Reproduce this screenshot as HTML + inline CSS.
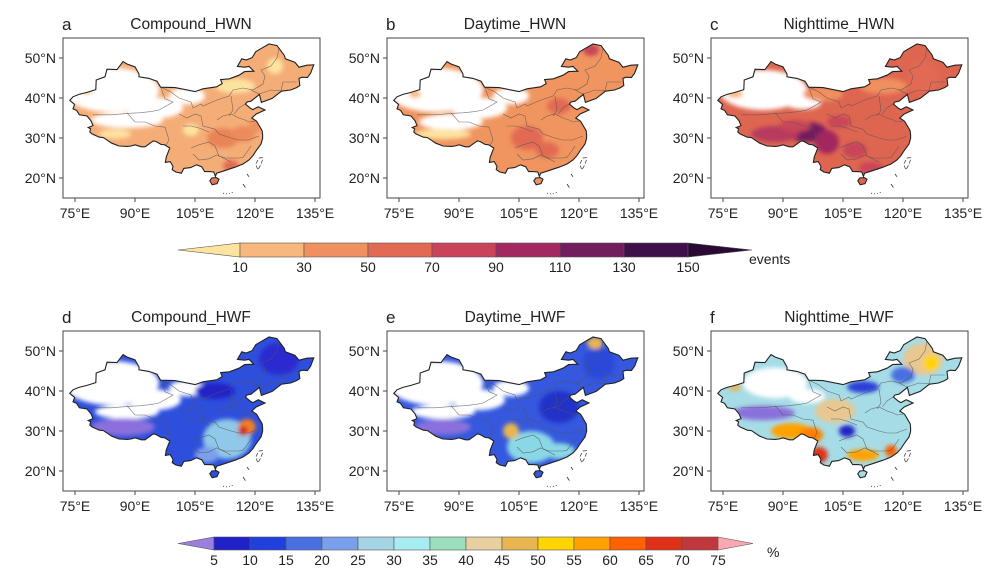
<!DOCTYPE html>
<html><head><meta charset="utf-8">
<style>
body{margin:0;background:#fff;}
svg{display:block;font-family:"Liberation Sans",Arial,sans-serif;}
</style></head>
<body>
<svg id="fig" width="1000" height="584" viewBox="0 0 1000 584">
<defs>
<filter id="blur" x="-50%" y="-50%" width="200%" height="200%"><feGaussianBlur stdDeviation="2.2"/></filter>
<clipPath id="chinaClip"><path id="clipPath0"/></clipPath>
</defs>
</svg>
<script>
const NS='http://www.w3.org/2000/svg';
const svg=document.getElementById('fig');
const chinaOutline=[[73.7,39.4],[74.5,40.3],[76,40.9],[78,41.4],[80.2,42.1],[80.3,44.5],[82.5,45.3],[83,47.2],[85.5,47.1],[87,49.1],[88,48.5],[90,47.8],[91,46],[91,45.3],[93.5,44.9],[95.5,44.2],[96.4,42.7],[100,42.6],[105,41.6],[107,42.3],[110.4,42.8],[111.8,43.6],[111.4,44.6],[113.6,44.8],[116,45.7],[117.4,46.6],[119.7,46.7],[118.5,47.9],[117.4,47.7],[115.6,47.9],[116.7,49.8],[117.8,49.5],[119.3,50.1],[120.2,51.6],[121.4,52.3],[123.5,53.5],[125.5,53.1],[127.3,50.7],[127.6,49.8],[130,48.9],[131,47.7],[133,48.2],[134.7,48.3],[133.9,46.2],[133.1,45.1],[131.8,45.2],[131,44.9],[131.2,43.1],[130.4,42.6],[128.9,42],[126.6,41.7],[124.3,39.9],[121.6,38.9],[121.1,40.9],[119,39.2],[118,39],[117.6,38.5],[118.9,37.4],[119.5,37.1],[120.8,37.8],[122.5,37],[120.3,36],[119.2,35],[120.4,34.2],[121.8,31.8],[121.9,30.8],[121.9,29.9],[121.5,28.5],[120.4,27],[119.5,25.6],[118.5,24.5],[117,23.5],[115,22.7],[113.5,22.2],[112,21.7],[110.4,21.2],[110.1,20.4],[109.7,21.5],[108.5,21.6],[107.4,21.6],[106.7,22.8],[105.4,23.3],[103.9,22.6],[102.2,22.4],[101.6,21.2],[100.2,21.5],[99.3,22.1],[99.5,22.9],[98.8,24.1],[97.6,23.9],[97.8,25.2],[98.7,27.5],[97.4,28.3],[96.5,28.4],[95.3,29.1],[94.6,29.3],[92.5,27.8],[91.6,27.8],[90,28.3],[89,28],[88.1,27.9],[86,28],[84.2,28.7],[82.1,30.1],[81.1,30.2],[79.3,31],[78.7,31.5],[78.9,32.3],[78.3,32.6],[79.5,33.1],[79,34.3],[78,35.5],[76.1,35.8],[75.4,36.9],[74.5,37.3],[74.9,38.4]];
const hainan=[[108.7,19.3],[109.3,18.3],[110.5,18.6],[111,19.7],[110.3,20.1],[109.2,20]];
const taiwan=[[121.9,25.1],[121,25],[120.2,23.5],[120.7,22],[121.4,23.2],[121.9,24.6]];
const provinceLines=[
 [[79.5,35.8],[84,35.8],[89,36.2],[91,36.3],[94,36.6],[96,37],[98.5,38.4],[99.5,39],[97.5,39.8],[96.5,42.5]],
 [[88,36.3],[90,34],[92.5,34],[95,33],[97.5,32.7],[98.5,29.5],[97.8,28.3]],
 [[96.5,42.7],[99,41.5],[101,40],[104,39],[104.5,37.5],[106.5,38.5],[107,38],[110.5,39.5],[113.5,40.5],[114.5,42],[117,42.5],[119.5,42],[122,43.5],[122.5,45.5],[121.5,47],[124,48],[125.5,50],[126,52.5]],
 [[101,36],[103,35],[105,36],[106.5,35.5],[107,33],[110,32.2],[111,31],[114,30],[116,29.5],[118.3,29.5],[121,30.5]],
 [[104,27.5],[106,28.3],[108.5,29],[110,28],[111,25.5],[112.5,25],[114.5,25],[116,25],[117,25.2],[118,26.5],[119,28]],
 [[110.5,34.5],[112,35.5],[114,36],[116,35],[117.5,34.5],[118.5,34],[120,34.2]],
 [[104.5,26],[106,24.5],[108.5,24.8],[110.5,25.8],[114,24]],
 [[114,40.5],[114.5,37],[113.5,35.5]],
 [[117.5,38.5],[116,37.5],[114.8,36]],
 [[102,33],[104,33],[106,32.5],[108.5,31.5]],
 [[119,42],[121,41],[124,42],[126.5,41.8],[127,44],[130.5,44]]
];
const letters=['a','b','c','d','e','f'];
const titles=['Compound_HWN','Daytime_HWN','Nighttime_HWN','Compound_HWF','Daytime_HWF','Nighttime_HWF'];
const panelBase=['#f5ad78','#f0955f','#de6650','#2e4fdc','#3558de','#a6dce6'];
// blobs: [lon, lat, rxDeg, ryDeg, color]
const blobsA=[[84,42,12,5.5,'#fff'],[95,37.5,7,2.6,'#fff'],[103,40.5,4.5,2.1,'#fff'],[88,34.5,9,2,'#fff'],[115,43,5,1.8,'#fce3a0'],[85,31,4,1.2,'#fce3a0'],[104,32,2,1.5,'#fce3a0'],[125,48,2,2,'#fce3a0'],[112,30,4,2.5,'#e98457'],[117,31,3,2,'#ec8a5c'],[114,23,2,1.5,'#e26a53'],[110,19,1.5,1,'#e26a53'],[120,33,1.5,2,'#f0905f'],[78,42,1.5,1,'#f7b77d']];
const blobsB=[[84,42,12,5.5,'#fff'],[95,37.5,7,2.6,'#fff'],[103,40.5,4.5,2.1,'#fff'],[88,34,8,2,'#fff'],[86,31,7,1.3,'#fce3a0'],[107,30,4,3,'#e26a53'],[112,27,3,2,'#e26a53'],[123,52,2,1.5,'#c94459'],[115,38,3,2,'#e26a53'],[79,41,1.5,1,'#f7b77d']];
const blobsC=[[85,42,11,5,'#fff'],[95,38.8,4.5,1.6,'#fff'],[96,31.5,5,2.5,'#721d5e'],[101,29,3,3,'#a3285f'],[88,31,6,2,'#b63a5e'],[93,33,4,1.5,'#c94459'],[108,27,3,2,'#c94459'],[112,22.5,3,1.5,'#c94459'],[104,34,3,1.5,'#c94459'],[125,45,4,4,'#e26a53'],[115,43,6,2,'#f0905f'],[100,41,5,1.8,'#f0905f'],[78,41,2,1,'#f7b77d']];
const blobsD=[[84,42,12,5.5,'#fff'],[95,37.8,6.5,2.6,'#fff'],[103,40.7,4.5,2,'#fff'],[88,34.8,8,1.8,'#fff'],[87,31,8,2.2,'#8a6fdc'],[113,28,6,5,'#8fc8e8'],[108,24,3,2,'#7aa0ec'],[118,31,2.2,2,'#f08020'],[117,30,1.2,1.2,'#d02020'],[126,48,5,4,'#2a2ad0'],[110,40,5,2,'#2121c8']];
const blobsE=[[84,42,12,5.5,'#fff'],[95,37.8,6.5,2.6,'#fff'],[103,40.7,4.5,2,'#fff'],[86,34.8,8,1.8,'#fff'],[86,31,7,2,'#8a6fdc'],[108,26,6,4,'#8ad8e6'],[115,25,4,2,'#8ad8e6'],[103,30,2,2,'#e8b650'],[115,36,5,4,'#2030c8'],[125,47,4,4,'#2a48d8'],[124,52,2,1.5,'#e8b650']];
const blobsF=[[88,42,8,3.8,'#fff'],[96,38.7,4.5,1.8,'#fff'],[85,34.5,8,1.8,'#8a6fdc'],[103,35,5,3,'#e8c890'],[125,48,5,4,'#e8c890'],[127,47,2,2,'#ffd400'],[92,30,5,2,'#ffa200'],[97,29,3,2,'#ff8000'],[99,24,2.2,2,'#e03018'],[110,24,4,1.5,'#ffa200'],[117,25,1.5,1.5,'#ff6000'],[106,30,2,1.5,'#2121c8'],[110,41,4,1.5,'#2a40d8'],[120,44,3,2,'#4a6fe0'],[78,41,1.5,1,'#e8b650']];
const panelBlobs=[blobsA,blobsB,blobsC,blobsD,blobsE,blobsF];
const colX=[63,387,711], rowY=[38,331];
const latTicks=[50,40,30,20], lonTicks=[75,90,105,120,135];
const cb1Labels=['10','30','50','70','90','110','130','150'];
const cb1Colors=['#fce3a0','#f7b77d','#f0905f','#e26a53','#c94459','#a3285f','#721d5e','#40104a','#2a0a35'];
const cb2Labels=['5','10','15','20','25','30','35','40','45','50','55','60','65','70','75'];
const cb2Colors=['#9a7ee0','#2121c8','#2040dd','#4a6fe0','#7aa0ec','#a5d5e4','#a6ecf0','#9ae0c0','#e8cfa0','#e8b650','#ffd400','#ffa200','#ff6000','#e03018','#c0383c','#f8a8b0'];

const X=lon=>(lon-72)*4, Y=lat=>(55-lat)*4;
function mk(t,a,p){const e=document.createElementNS(NS,t);for(const k in a)e.setAttribute(k,a[k]);(p||svg).appendChild(e);return e;}
function pts(arr){return arr.map(p=>X(p[0]).toFixed(1)+','+Y(p[1]).toFixed(1)).join(' ');}
const outlineD='M'+pts(chinaOutline)+'Z M'+pts(hainan)+'Z';
document.getElementById('clipPath0').setAttribute('d',outlineD);

for(let i=0;i<6;i++){
 const x0=colX[i%3], y0=rowY[Math.floor(i/3)];
 const g=mk('g',{transform:`translate(${x0},${y0})`});
 
 
 const fillG=mk('g',{'clip-path':'url(#chinaClip)'},g);
 mk('path',{d:outlineD,fill:panelBase[i]},fillG);
 const bg=mk('g',{filter:'url(#blur)'},fillG);
 panelBlobs[i].forEach(b=>{
  const el=mk('ellipse',{cx:X(b[0]),cy:Y(b[1]),rx:b[2]*4,ry:b[3]*4,fill:b[4]},bg);
  
  
 });
 provinceLines.forEach(l=>{mk('polyline',{points:pts(l),fill:'none',stroke:'#555','stroke-width':0.6,'stroke-opacity':0.8},g);});
 const ol=mk('path',{d:outlineD,fill:'none',stroke:'#222','stroke-width':1.1},g);
 
 
 mk('polygon',{points:pts(taiwan),fill:'none',stroke:'#333','stroke-width':0.7,'stroke-dasharray':'4 2'},g);
 mk('polyline',{points:pts([[118,21],[118.5,20.3]]),stroke:'#333','stroke-width':0.8},g);
 mk('polyline',{points:pts([[117,18.5],[117.6,17.6]]),stroke:'#333','stroke-width':0.8},g);
 mk('polyline',{points:pts([[112,16.2],[113,16],[114.5,16.4]]),stroke:'#333','stroke-width':0.8,'stroke-dasharray':'1 2',fill:'none'},g);
 const fr=mk('rect',{x:0,y:0,width:257,height:160,fill:'none',stroke:'#444','stroke-width':1},g);
 
 
 latTicks.forEach(l=>{
  mk('line',{x1:-4,x2:0,y1:Y(l),y2:Y(l),stroke:'#444'},g);
  const t=mk('text',{x:-7,y:Y(l)+5,'text-anchor':'end','font-size':14,fill:'#222'},g);t.textContent=l+'°N';
  
  
 });
 lonTicks.forEach(l=>{
  mk('line',{x1:X(l),x2:X(l),y1:160,y2:164,stroke:'#444'},g);
  const t=mk('text',{x:X(l),y:180,'text-anchor':'middle','font-size':14,fill:'#222'},g);t.textContent=l+'°E';
  
  
 });
 const lt=mk('text',{x:-1,y:-8,'font-size':17,fill:'#222'},g);lt.textContent=letters[i];
 
 
 const tt=mk('text',{x:128,y:-9,'text-anchor':'middle','font-size':15.5,fill:'#222'},g);tt.textContent=titles[i];
 
 
}

function colorbar(name,x1,x2,tipL,tipR,y,h,colors,labels,unit,ux,uy){
 const g=mk('g',{});
 
 
 const n=colors.length-2, w=(x2-x1)/n;
 mk('polygon',{points:`${tipL},${y+h/2} ${x1},${y} ${x1},${y+h}`,fill:colors[0],stroke:'#555','stroke-width':0.6},g);
 for(let k=0;k<n;k++){
  const r=mk('rect',{x:x1+k*w,y:y,width:w,height:h,fill:colors[k+1],stroke:'#555','stroke-width':0.6},g);
  
  
 }
 mk('polygon',{points:`${x2},${y} ${tipR},${y+h/2} ${x2},${y+h}`,fill:colors[colors.length-1],stroke:'#555','stroke-width':0.6},g);
 labels.forEach((l,k)=>{
  const t=mk('text',{x:x1+k*w,y:y+h+15,'text-anchor':'middle','font-size':14,fill:'#222'},g);t.textContent=l;
  
  
 });
 const u=mk('text',{x:ux,y:uy,'font-size':14,fill:'#222'},g);u.textContent=unit;
 
 
}
colorbar('colorbar-hwn',240,688,178,752,243,14,cb1Colors,cb1Labels,'events',749,264);
colorbar('colorbar-hwf',214,718,178,753,537,13,cb2Colors,cb2Labels,'%',767,557);
</script>
</body></html>
